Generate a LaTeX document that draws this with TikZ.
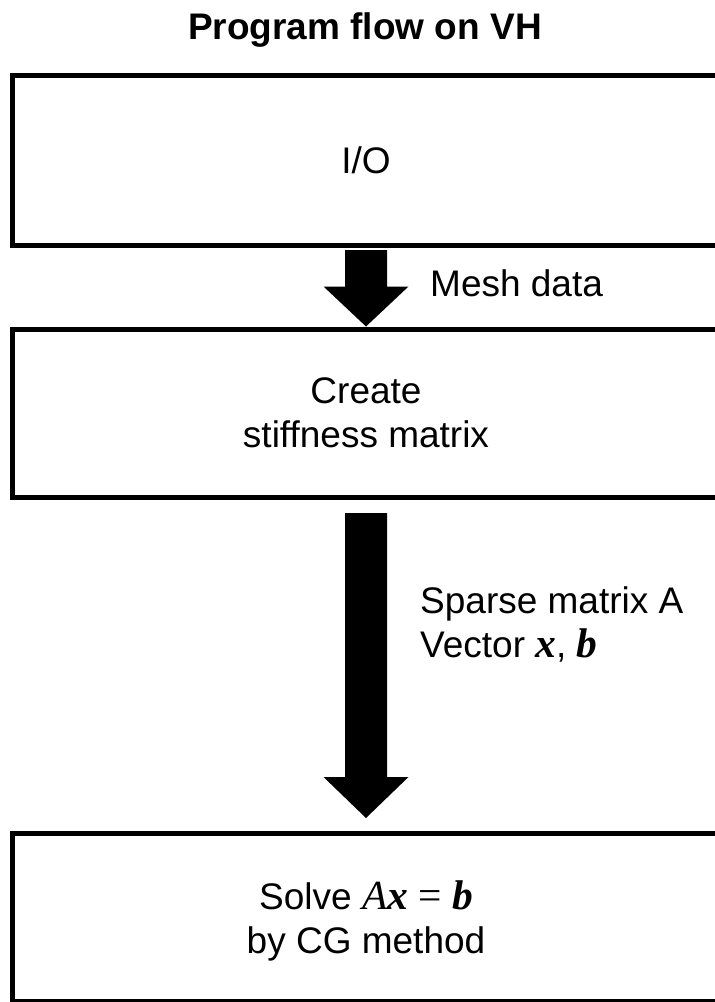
\documentclass[tikz,border=0pt]{standalone}
\usepackage{fontspec}
\setmainfont{Liberation Sans}
\newfontfamily\serifmath[Scale=1.12]{Liberation Serif}
\usetikzlibrary{calc}

% symbols set in a serif, like math variables
\newcommand\mvar[1]{{\serifmath\itshape #1}}
\newcommand\mvec[1]{{\serifmath\bfseries\itshape #1}}

\begin{document}
\begin{tikzpicture}[x=1pt,y=-1pt,
  bigtext/.style={font=\fontsize{37}{44}\selectfont},
  stage/.style={draw, line width=5pt, minimum width=708pt, align=center,
                inner sep=0pt, bigtext},
  note/.style={inner sep=0pt, bigtext},
  blockarrow/.style={fill=black}]
\useasboundingbox (0,0) rectangle (715,1002);
\clip (0,0) rectangle (715,1002);

% title
\node[anchor=base, font=\bfseries\fontsize{37}{44}\selectfont] (title) at (365,39) {Program flow on VH};

% processing stages
\node[stage, minimum height=169.5pt] (io) at (366,160.25) {I/O};
\node[stage, minimum height=168.5pt] (mk) at (366,413.25) {Create\\stiffness matrix};
\node[stage, minimum height=168.5pt, text depth=0pt] (cg) at (366,917.25)
  {Solve \mvar{A}\mvec{x} {\serifmath =} \mvec{b}\\by CG method};

% block arrows between the stages
\newcommand\blockarrow[3]{%
  \fill[blockarrow] ($(#1)+(-21,0)$) -- ($(#1)+(21,0)$) -- ($(#2)+(21,-#3)$)
    -- ($(#2)+(42.5,-#3)$) -- (#2) -- ($(#2)+(-42.5,-#3)$) -- ($(#2)+(-21,-#3)$) -- cycle;}

\coordinate (a1top) at ($(io.south)+(0,2.5)$);
\coordinate (a1tip) at (mk.north);
\blockarrow{a1top}{a1tip}{40}

\coordinate (a2top) at ($(mk.south)+(0,13)$);
\coordinate (a2tip) at ($(cg.north)+(0,-12.5)$);
\blockarrow{a2top}{a2tip}{41}

% data passed along the arrows
\node[note, anchor=base west] (meshlbl) at (430,296) {Mesh data};
\node[note, anchor=base west, align=left] (datalbl) at (420,657)
  {Sparse matrix A\\Vector \mvec{x}, \mvec{b}};
\end{tikzpicture}
\end{document}
